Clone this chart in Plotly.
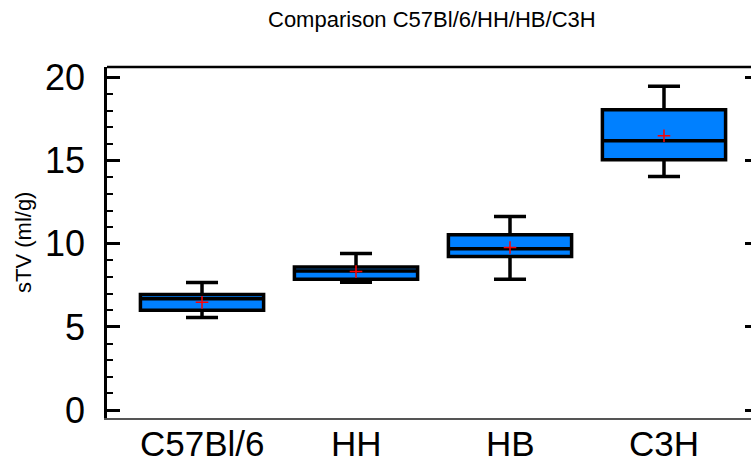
import plotly.graph_objects as go

categories = ["C57Bl/6", "HH", "HB", "C3H"]
lower_whisker = [5.56, 7.69, 7.87, 14.05]
q1 = [6.00, 7.87, 9.24, 15.06]
median = [6.69, 8.36, 9.70, 16.20]
q3 = [6.95, 8.60, 10.54, 18.07]
upper_whisker = [7.67, 9.42, 11.65, 19.48]
means = [6.48, 8.33, 9.78, 16.50]

title_text = "Comparison C57Bl/6/HH/HB/C3H"
y_title = "sTV (ml/g)"
y_ticks = [0, 5, 10, 15, 20]

FONT = "Liberation Sans, Arial, sans-serif"

fig = go.Figure()
fig.add_trace(go.Box(
    x=categories,
    q1=q1, median=median, q3=q3,
    lowerfence=lower_whisker, upperfence=upper_whisker,
    fillcolor="#0080FF",
    line=dict(color="black", width=3.5),
    whiskerwidth=0.26,
    width=0.8,
    boxpoints=False,
    showlegend=False,
    hoverinfo="skip",
))
fig.add_trace(go.Scatter(
    x=categories, y=means, mode="markers",
    marker=dict(symbol="cross-thin", size=9, line=dict(color="red", width=1.5), color="red"),
    showlegend=False, hoverinfo="skip",
))
# invisible trace for right-hand axis ticks
fig.add_trace(go.Scatter(x=categories, y=means, yaxis="y2", mode="markers",
                         marker=dict(opacity=0), showlegend=False, hoverinfo="skip"))

yr = [-0.48, 20.64]

annotations = [
    dict(text=title_text, xref="paper", yref="paper",
         x=(432 - 107) / 644, y=1 + (67 - 20) / 351, xanchor="center", yanchor="middle",
         showarrow=False, font=dict(size=22, family=FONT, color="black")),
    dict(text=y_title, xref="paper", yref="paper",
         x=(24 - 107) / 644, y=(418 - 243) / 351, xanchor="center", yanchor="middle",
         textangle=-90, showarrow=False, font=dict(size=22, family=FONT, color="black")),
]
# category labels below the axis
for c in categories:
    annotations.append(dict(text=c, x=c, xref="x", yref="paper",
                            y=-(443 - 418) / 351, xanchor="center", yanchor="middle",
                            showarrow=False, font=dict(size=35, family=FONT, color="black")))

fig.update_layout(
    width=751, height=464,
    margin=dict(l=107, r=0, t=67, b=46, autoexpand=False),
    paper_bgcolor="white", plot_bgcolor="white",
    font=dict(family=FONT, color="black"),
    xaxis=dict(
        type="category", categoryorder="array", categoryarray=categories,
        range=[-0.617, 3.565], automargin=False,
        showgrid=False, zeroline=False,
        showline=True, linecolor="#555555", linewidth=1.5,
        ticks="", showticklabels=False,
    ),
    yaxis=dict(
        range=yr, tickvals=y_ticks, automargin=False,
        showgrid=False, zeroline=False,
        showline=True, linecolor="black", linewidth=2.5,
        ticks="inside", ticklen=13, tickwidth=2.5, tickcolor="black",
        minor=dict(dtick=1, ticks="inside", ticklen=6, tickwidth=2, tickcolor="black"),
        tickfont=dict(size=36, family=FONT, color="black"),
        ticklabelstandoff=12,
    ),
    yaxis2=dict(
        range=yr, tickvals=y_ticks, overlaying="y", side="right", automargin=False,
        showgrid=False, zeroline=False, showline=False,
        ticks="inside", ticklen=6, tickwidth=2.5, tickcolor="black",
        showticklabels=False,
    ),
    shapes=[dict(type="line", xref="paper", yref="paper", x0=0, x1=1, y0=1, y1=1,
                 line=dict(color="black", width=2.5))],
    annotations=annotations,
)

fig.write_html("out.html")
